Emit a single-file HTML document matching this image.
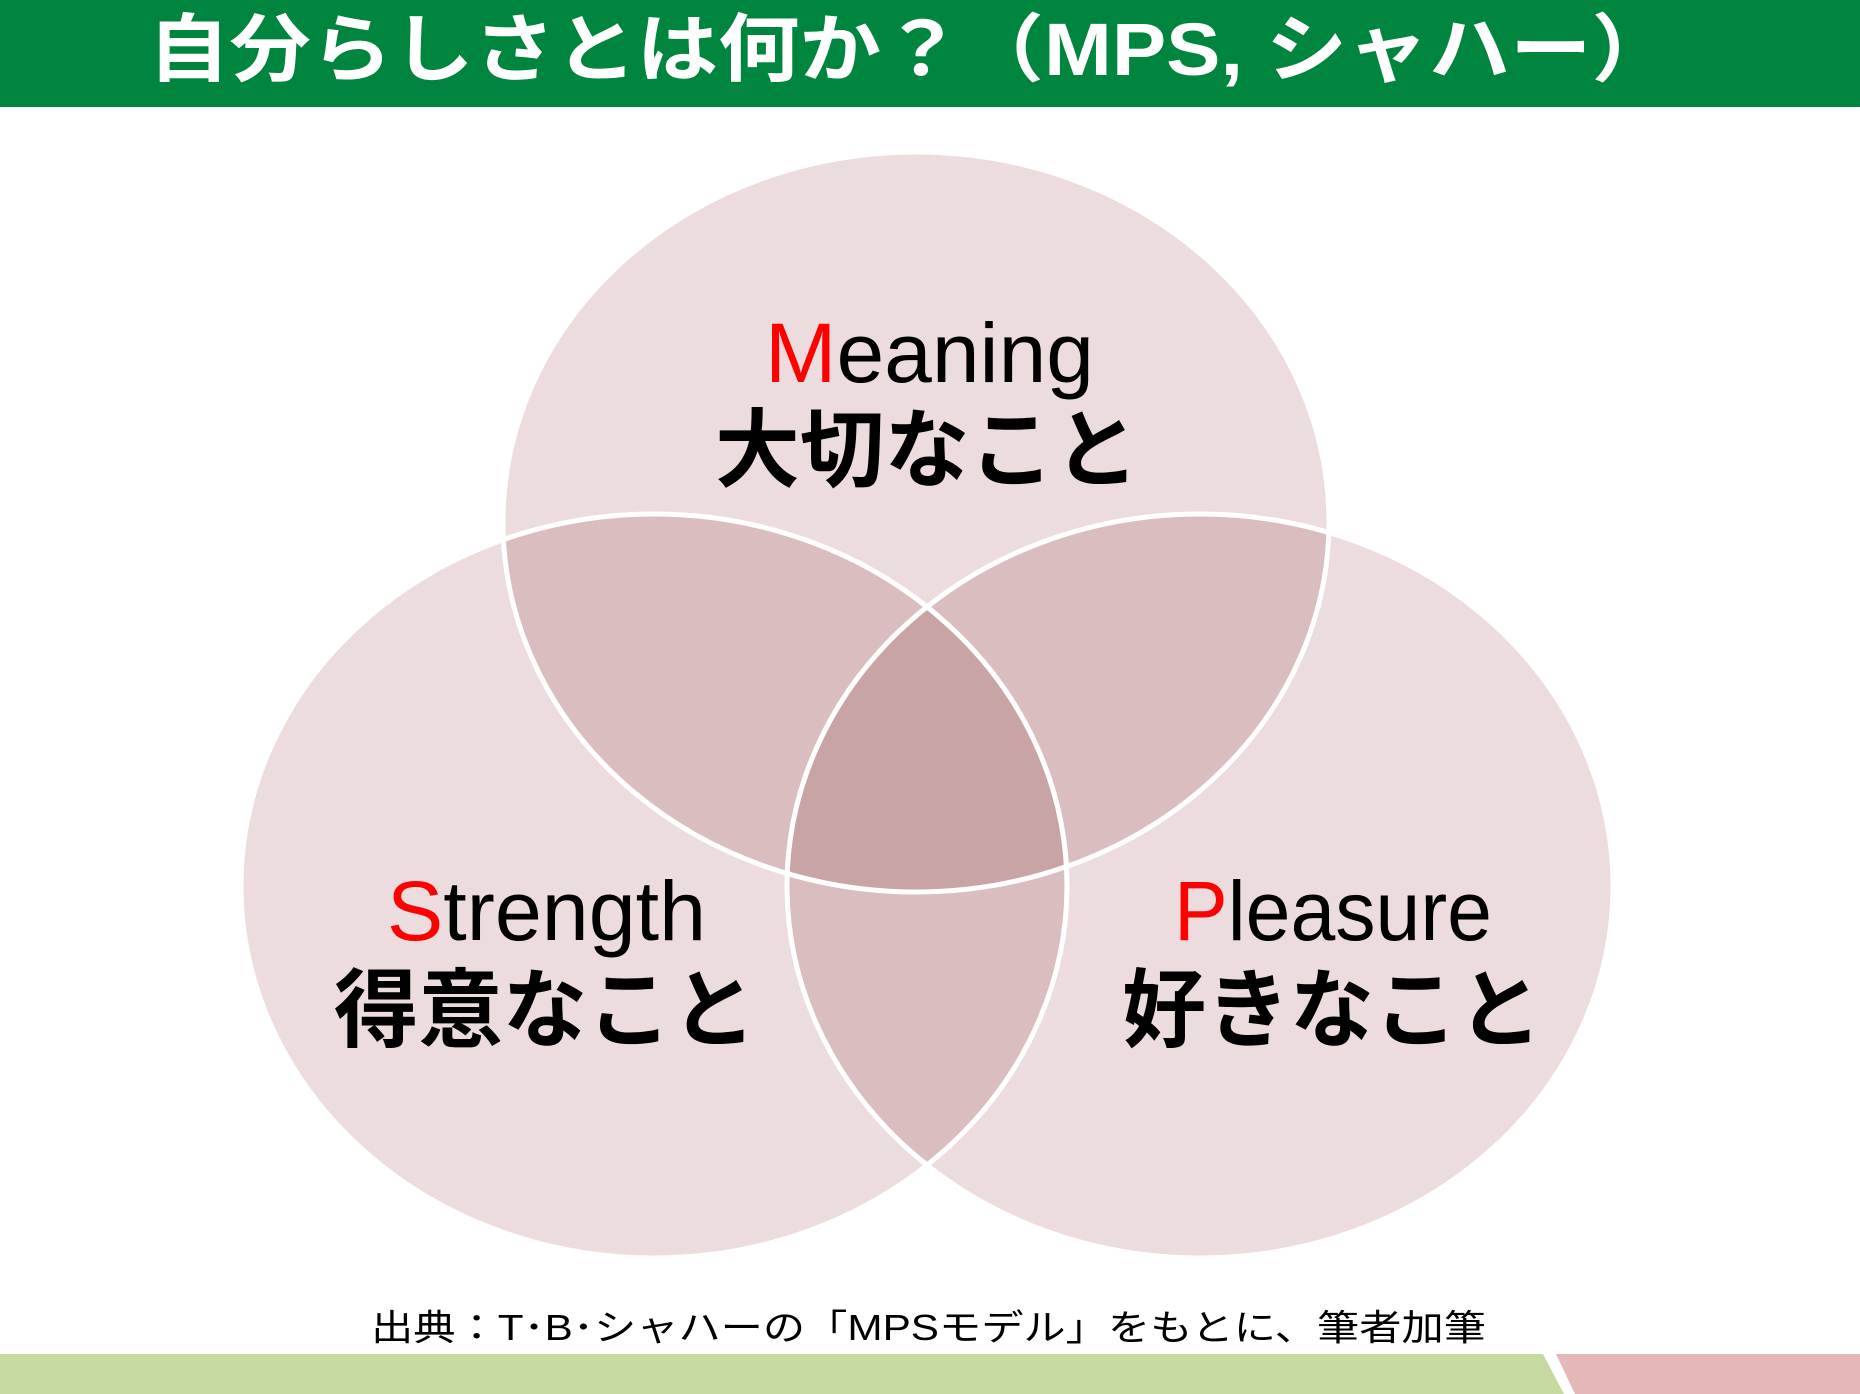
<!DOCTYPE html>
<html><head><meta charset="utf-8"><style>
html,body{margin:0;padding:0;background:#fff;}
svg{display:block;}
</style></head><body>
<svg width="1860" height="1394" viewBox="0 0 1860 1394" xmlns="http://www.w3.org/2000/svg">
<rect x="0" y="0" width="1860" height="107" fill="#00853e"/>
<text x="148" y="75" font-family="Liberation Sans, Noto Sans CJK JP, sans-serif" font-weight="bold" font-size="74" fill="#fff" textLength="1525" lengthAdjust="spacingAndGlyphs">自分らしさとは何か？（MPS, シャハー）</text>
<g>
<ellipse cx="916" cy="522" rx="413" ry="370" fill="#ecdcdd" style="mix-blend-mode:multiply"/>
<ellipse cx="654" cy="886" rx="413" ry="372" fill="#ecdcdd" style="mix-blend-mode:multiply"/>
<ellipse cx="1200" cy="886" rx="413" ry="372" fill="#ecdcdd" style="mix-blend-mode:multiply"/>
</g>
<g fill="none" stroke="#fff" stroke-width="5">
<ellipse cx="916" cy="522" rx="413" ry="370"/>
<ellipse cx="654" cy="886" rx="413" ry="372"/>
<ellipse cx="1200" cy="886" rx="413" ry="372"/>
</g>
<g font-family="Liberation Sans, Noto Sans CJK JP, sans-serif">
<text x="765" y="382" font-size="84" textLength="329" lengthAdjust="spacingAndGlyphs"><tspan fill="#ff0000">M</tspan>eaning</text>
<text x="715" y="480" font-size="86" font-weight="bold" textLength="424" lengthAdjust="spacingAndGlyphs">大切なこと</text>
<text x="387" y="940" font-size="84" textLength="319" lengthAdjust="spacingAndGlyphs"><tspan fill="#ff0000">S</tspan>trength</text>
<text x="334" y="1040" font-size="86" font-weight="bold" textLength="422" lengthAdjust="spacingAndGlyphs">得意なこと</text>
<text x="1174" y="940" font-size="84" textLength="318" lengthAdjust="spacingAndGlyphs"><tspan fill="#ff0000">P</tspan>leasure</text>
<text x="1122" y="1040" font-size="86" font-weight="bold" textLength="420" lengthAdjust="spacingAndGlyphs">好きなこと</text>
<text x="371" y="1340" font-size="36" textLength="1115" lengthAdjust="spacingAndGlyphs">出典：T･B･シャハーの「MPSモデル」をもとに、筆者加筆</text>
</g>
<polygon points="0,1354 1543,1354 1564,1394 0,1394" fill="#c5d9a0"/>
<polygon points="1556,1354 1860,1354 1860,1394 1575,1394" fill="#e5b8b8"/>
</svg>
</body></html>
